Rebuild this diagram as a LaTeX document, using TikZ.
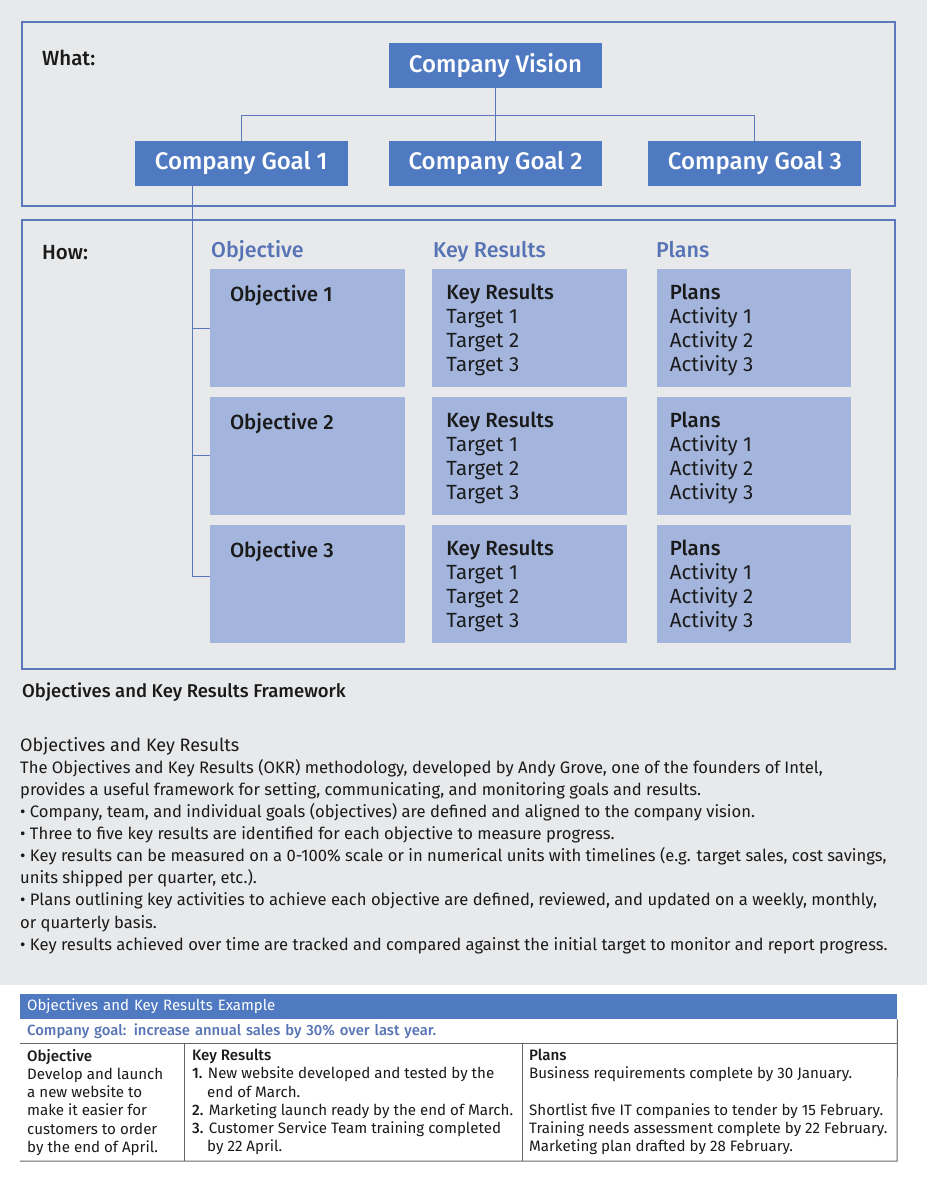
\documentclass[tikz,border=0pt]{standalone}
\usepackage{fontspec}
\setmainfont{Fira Sans}
\newfontfamily\okrmed{Fira Sans Medium}
\usetikzlibrary{positioning}

\definecolor{okrdark}{HTML}{4F79C1}
\definecolor{okrlight}{HTML}{A3B5DD}
\definecolor{okrline}{HTML}{5B78BD}
\definecolor{okrhead}{HTML}{5673B5}
\definecolor{okrbg}{HTML}{E8E9EB}
\definecolor{okrrule}{HTML}{666666}
\definecolor{okrtext}{HTML}{1A1A1A}

\newcommand\cellfont{\fontsize{20.5}{24}\selectfont}

\begin{document}
\begin{tikzpicture}[x=1pt, y=-1pt,
  goalbox/.style={fill=okrdark, text=white, minimum width=213pt, minimum height=45pt, inner sep=0pt, font=\okrmed\fontsize{24}{28}\selectfont},
  cellbox/.style={fill=okrlight, minimum width=195pt, minimum height=118pt, inner sep=0pt},
  celltext/.style={anchor=north west, align=left, inner sep=0pt, text=okrtext, font=\cellfont},
  colhead/.style={anchor=base west, inner sep=0pt, text=okrhead, font=\okrmed\fontsize{21.5}{25}\selectfont},
  sidehead/.style={anchor=base west, inner sep=0pt, text=okrtext, font=\okrmed\fontsize{20.5}{24}\selectfont},
  okrframe/.style={draw=okrline, line width=1.1pt},
  link/.style={draw=okrline, line width=0.9pt},
  prose/.style={anchor=north west, align=left, inner sep=0pt, text=okrtext, font=\fontsize{16.6}{22.1}\selectfont},
  exhead/.style={anchor=north west, fill=okrdark, text=white, text width=863pt, inner xsep=7pt, inner ysep=0pt, minimum height=25pt, align=left, font=\fontsize{15}{18}\selectfont},
  exgoal/.style={text=okrhead, text width=863pt, inner xsep=7pt, inner ysep=0pt, minimum height=24pt, align=left, font=\okrmed\fontsize{14.8}{18}\selectfont},
  excell/.style={anchor=north west, align=left, inner sep=0pt, text=okrtext, font=\fontsize{15.1}{18.2}\selectfont},
  exrule/.style={draw=okrrule, line width=1pt},
]
  \useasboundingbox (0,0) rectangle (927,1185);
  \fill[white] (0,0) rectangle (927,1185);
  \fill[okrbg] (0,0) rectangle (927,985);

  % what: vision and goals
  \draw[okrframe] (22,22) rectangle (895,206);
  \node[sidehead] (what) at (42,66) {What:};
  \node[goalbox] (vision) at (495.5,65.5) {Company Vision};
  \node[goalbox] (goal2) at (495.5,163.5) {Company Goal 2};
  \node[goalbox, left=41pt of goal2] (goal1) {Company Goal 1};
  \node[goalbox, right=46pt of goal2] (goal3) {Company Goal 3};
  \coordinate (bus) at (495.5,115);
  \draw[link] (vision) -- (goal2);
  \draw[link] (goal1.north) -- (goal1.north |- bus) -- (goal3.north |- bus) -- (goal3.north);

  % how: objectives, key results, plans
  \draw[okrframe] (22,220) rectangle (895,669);
  \node[sidehead] (how) at (42,259) {How:};
  \node[cellbox] (o1) at (307.5,328) {};
  \node[cellbox, right=27pt of o1] (k1) {};
  \node[cellbox, right=29pt of k1, minimum width=194pt] (p1) {};
  \node[cellbox, below=9.5pt of o1] (o2) {};
  \node[cellbox, right=27pt of o2] (k2) {};
  \node[cellbox, right=29pt of k2, minimum width=194pt] (p2) {};
  \node[cellbox, below=9.5pt of o2] (o3) {};
  \node[cellbox, right=27pt of o3] (k3) {};
  \node[cellbox, right=29pt of k3, minimum width=194pt] (p3) {};

  \node[colhead] (ohead) at (211,257) {Objective};
  \node[colhead] (khead) at (433,257) {Key Results};
  \node[colhead] (phead) at (656,257) {Plans};

  \node[celltext, font=\okrmed\cellfont] (o1t) at ([shift={(20pt,-16pt)}]o1.north west) {Objective 1};
  \node[celltext, font=\okrmed\cellfont] (o2t) at ([shift={(20pt,-16pt)}]o2.north west) {Objective 2};
  \node[celltext, font=\okrmed\cellfont] (o3t) at ([shift={(20pt,-16pt)}]o3.north west) {Objective 3};
  \node[celltext] (k1t) at ([shift={(14pt,-15pt)}]k1.north west) {{\okrmed Key Results}\\Target 1\\Target 2\\Target 3};
  \node[celltext] (k2t) at ([shift={(14pt,-15pt)}]k2.north west) {{\okrmed Key Results}\\Target 1\\Target 2\\Target 3};
  \node[celltext] (k3t) at ([shift={(14pt,-15pt)}]k3.north west) {{\okrmed Key Results}\\Target 1\\Target 2\\Target 3};
  \node[celltext] (p1t) at ([shift={(13pt,-15pt)}]p1.north west) {{\okrmed Plans}\\Activity 1\\Activity 2\\Activity 3};
  \node[celltext] (p2t) at ([shift={(13pt,-15pt)}]p2.north west) {{\okrmed Plans}\\Activity 1\\Activity 2\\Activity 3};
  \node[celltext] (p3t) at ([shift={(13pt,-15pt)}]p3.north west) {{\okrmed Plans}\\Activity 1\\Activity 2\\Activity 3};

  \coordinate (spine) at (192,186);
  \draw[link] (spine) |- ([yshift=7pt]o3.west);
  \draw[link] (spine |- o1.west) -- (o1.west);
  \draw[link] (spine |- o2.west) -- (o2.west);

  % caption and notes
  \node[anchor=base west, inner sep=0pt, text=okrtext, font=\okrmed\fontsize{18.5}{22}\selectfont] (caption) at (22,697) {Objectives and Key Results Framework};
  \node[prose] (notes) at (20,737) {{\fontsize{18}{22.1}\selectfont Objectives and Key Results}\\
    The Objectives and Key Results (OKR) methodology, developed by Andy Grove, one of the founders of Intel,\\
    provides a useful framework for setting, communicating, and monitoring goals and results.\\
    \textbullet{} Company, team, and individual goals (objectives) are defined and aligned to the company vision.\\
    \textbullet{} Three to five key results are identified for each objective to measure progress.\\
    \textbullet{} Key results can be measured on a 0-100\% scale or in numerical units with timelines (e.g. target sales, cost savings,\\
    units shipped per quarter, etc.).\\
    \textbullet{} Plans outlining key activities to achieve each objective are defined, reviewed, and updated on a weekly, monthly,\\
    or quarterly basis.\\
    \textbullet{} Key results achieved over time are tracked and compared against the initial target to monitor and report progress.};

  % example table
  \node[exhead] (exh) at (20,994) {Objectives and Key Results Example};
  \node[exgoal, below=0pt of exh] (exg) {Company goal: increase annual sales by 30\% over last year.};
  \coordinate (exbl) at (20,1161);
  \coordinate (exbr) at (897,1161);
  \coordinate (excol1) at (184,1161);
  \coordinate (excol2) at (522,1161);
  \draw[exrule] (exg.south west) -- (exg.south east);
  \draw[exrule] (exg.north east) -- (exbr) -- (exbl);
  \draw[exrule] (excol1 |- exg.south) -- (excol1);
  \draw[exrule] (excol2 |- exg.south) -- (excol2);
  \node[excell] (exo) at (27,1049) {{\okrmed Objective}\\Develop and launch\\a new website to\\make it easier for\\customers to order\\by the end of April.};
  \node[excell] (exk) at (192,1049) {{\okrmed Key Results}\\{\okrmed 1.} New website developed and tested by the\\\hspace*{15pt}end of March.\\{\okrmed 2.} Marketing launch ready by the end of March.\\{\okrmed 3.} Customer Service Team training completed\\\hspace*{15pt}by 22 April.};
  \node[excell] (exp) at (529,1049) {{\okrmed Plans}\\Business requirements complete by 30 January.\\\mbox{}\\Shortlist five IT companies to tender by 15 February.\\Training needs assessment complete by 22 February.\\Marketing plan drafted by 28 February.};
\end{tikzpicture}
\end{document}
